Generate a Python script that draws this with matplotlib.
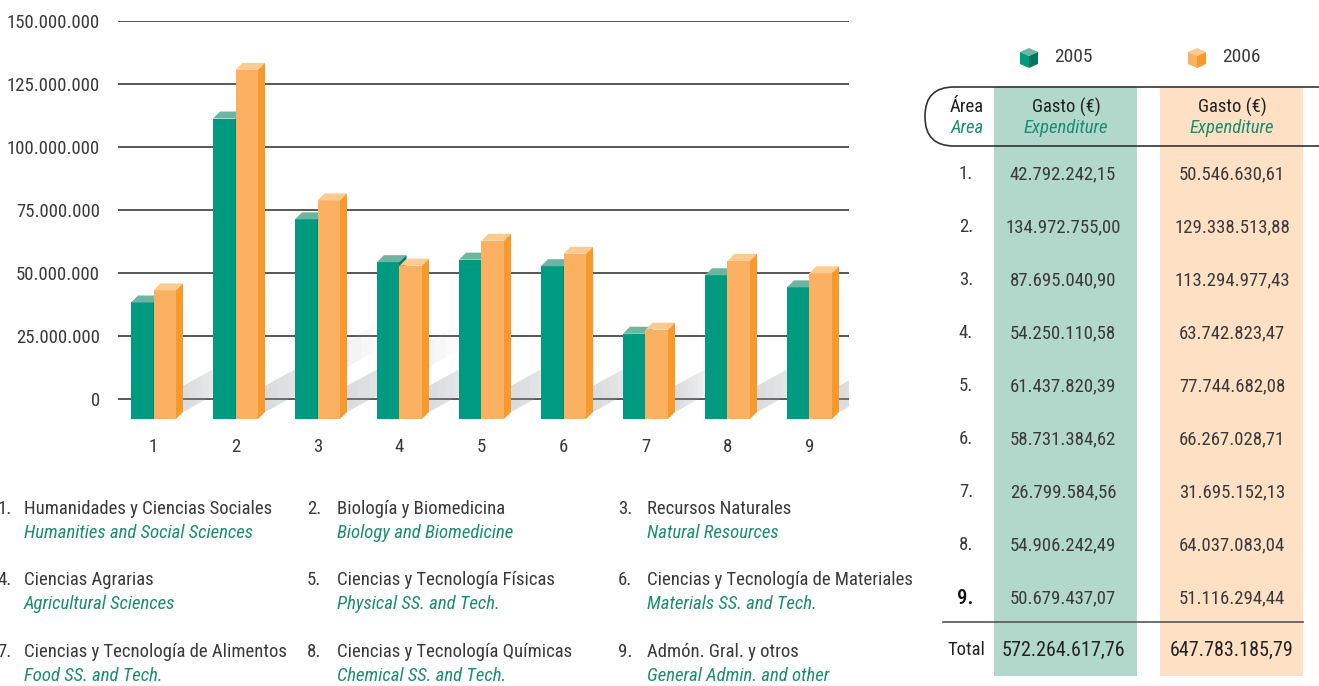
import numpy as np
import matplotlib.pyplot as plt
from matplotlib.patches import Polygon, FancyBboxPatch, Rectangle

plt.rcParams['font.family'] = ['Roboto Condensed', 'DejaVu Sans']

# ---- data ----
areas = ['1', '2', '3', '4', '5', '6', '7', '8', '9']
bars_2005 = [38.3e6, 111.3e6, 71.3e6, 54.3e6, 55.3e6, 52.7e6, 25.9e6, 49.1e6, 44.3e6]
bars_2006 = [43.1e6, 130.6e6, 78.8e6, 52.9e6, 62.8e6, 57.6e6, 27.5e6, 54.8e6, 49.9e6]
yticks = [0, 25e6, 50e6, 75e6, 100e6, 125e6, 150e6]

names_es = ['Humanidades y Ciencias Sociales', 'Biología y Biomedicina', 'Recursos Naturales',
            'Ciencias Agrarias', 'Ciencias y Tecnología Físicas', 'Ciencias y Tecnología de Materiales',
            'Ciencias y Tecnología de Alimentos', 'Ciencias y Tecnología Químicas', 'Admón. Gral. y otros']
names_en = ['Humanities and Social Sciences', 'Biology and Biomedicine', 'Natural Resources',
            'Agricultural Sciences', 'Physical SS. and Tech.', 'Materials SS. and Tech.',
            'Food SS. and Tech.', 'Chemical SS. and Tech.', 'General Admin. and other']

table_2005 = ['42.792.242,15', '134.972.755,00', '87.695.040,90', '54.250.110,58', '61.437.820,39',
              '58.731.384,62', '26.799.584,56', '54.906.242,49', '50.679.437,07']
table_2006 = ['50.546.630,61', '129.338.513,88', '113.294.977,43', '63.742.823,47', '77.744.682,08',
              '66.267.028,71', '31.695.152,13', '64.037.083,04', '51.116.294,44']
total_2005 = '572.264.617,76'
total_2006 = '647.783.185,79'

# colours
G_FRONT, G_TOP, G_SIDE = '#009A80', '#6CB5A2', '#00765C'
O_FRONT, O_TOP, O_SIDE = '#FBB161', '#FDCB8F', '#F7992B'
TXT = '#3a3a3a'
GREEN_TXT = '#1B8D6F'
FS = 13.5

W, H = 1319, 686
fig = plt.figure(figsize=(W / 100, H / 100), dpi=100)

# ---- bar chart ----
px_left, px_right, px_top, px_bot = 118, 849, 21, 419
ax = fig.add_axes([px_left / W, 1 - px_bot / H, (px_right - px_left) / W, (px_bot - px_top) / H])
ymax = 150e6
px_per_unit = (399 - 21) / ymax
base = -(px_bot - 399) / px_per_unit
ax.set_xlim((px_left - 153.5) / 82, (px_right - 153.5) / 82)
ax.set_ylim(base, ymax)

w = 22.5 / 82
dx = 7 / 82
dy = 7 / px_per_unit

for t in yticks:
    ax.axhline(t, color='#4a4a4a', lw=1.3, zorder=0)

idx = np.arange(len(areas))

# soft shadows cast up-right behind each group, fading with distance
for i in idx:
    top = max(bars_2005[i], bars_2006[i])
    x0 = i + w + dx
    y0 = base + dy
    L = min((top - base) * px_per_unit * 0.5, 120)  # pixels
    hs = 26 / px_per_unit
    for step in range(10):
        l = L * (1 - step / 10)
        pts = [(x0, y0), (x0, y0 + hs),
               (x0 + l / 82, y0 + hs + l * 0.55 / px_per_unit),
               (x0 + l / 82, y0 + l * 0.55 / px_per_unit)]
        ax.add_patch(Polygon(pts, closed=True, facecolor='#a4a6aa', edgecolor='none',
                             alpha=0.045, zorder=0.5))

def draw_bar(x0, v, front, topc, side, z):
    ax.bar(x0, v - base, width=w, bottom=base, align='edge', color=front, zorder=z)
    ax.add_patch(Polygon([(x0, v), (x0 + w, v), (x0 + w + dx, v + dy), (x0 + dx, v + dy)],
                         closed=True, facecolor=topc, edgecolor='none', zorder=z))
    ax.add_patch(Polygon([(x0 + w, base), (x0 + w, v), (x0 + w + dx, v + dy), (x0 + w + dx, base + dy)],
                         closed=True, facecolor=side, edgecolor='none', zorder=z))

for i in idx:
    draw_bar(i - w, bars_2005[i], G_FRONT, G_TOP, G_SIDE, 2)
    draw_bar(i, bars_2006[i], O_FRONT, O_TOP, O_SIDE, 3)

ax.set_yticks(yticks)
ax.set_yticklabels([f'{int(t):,}'.replace(',', '.') for t in yticks], fontsize=FS, color=TXT)
ax.set_xticks(idx)
ax.set_xticklabels(areas, fontsize=FS, color=TXT)
ax.tick_params(axis='y', length=0, pad=13)
ax.tick_params(axis='x', length=0, pad=14)
for s in ax.spines.values():
    s.set_visible(False)

# ---- overlay in pixel coordinates ----
ov = fig.add_axes([0, 0, 1, 1])
ov.set_xlim(0, W)
ov.set_ylim(H, 0)
ov.axis('off')
ov.patch.set_alpha(0)

# bottom legend of areas
col_num_x = [12, 321, 632]
col_txt_x = [24, 337, 647]
row_y = [509, 580, 652]
for k in range(9):
    r, c = divmod(k, 3)
    ov.text(col_num_x[c], row_y[r], f'{k + 1}.', ha='right', va='center', fontsize=FS, color=TXT)
    ov.text(col_txt_x[c], row_y[r], names_es[k], ha='left', va='center', fontsize=FS, color=TXT)
    ov.text(col_txt_x[c], row_y[r] + 24, names_en[k], ha='left', va='center', fontsize=FS,
            color=GREEN_TXT, style='italic')

# table columns
ov.add_patch(Rectangle((994, 87), 143, 589, facecolor='#B2D7CB', edgecolor='none', zorder=1))
ov.add_patch(Rectangle((1160, 87), 143, 589, facecolor='#FEE1C4', edgecolor='none', zorder=1))
ov.add_patch(FancyBboxPatch((925, 87), 430, 59, boxstyle='round,pad=0,rounding_size=29',
                            facecolor='none', edgecolor='#333333', lw=1.2, zorder=3, clip_on=False))

# legend cubes
def cube(cx, cy, topc, left, right):
    t, ur, ul, c = (cx, cy - 10), (cx + 9, cy - 6), (cx - 9, cy - 6), (cx, cy - 2)
    ll, lr, b = (cx - 9, cy + 6), (cx + 9, cy + 6), (cx, cy + 10)
    ov.add_patch(Polygon([t, ur, c, ul], closed=True, facecolor=topc, edgecolor='none', zorder=4))
    ov.add_patch(Polygon([ul, c, b, ll], closed=True, facecolor=left, edgecolor='none', zorder=4))
    ov.add_patch(Polygon([c, ur, lr, b], closed=True, facecolor=right, edgecolor='none', zorder=4))

cube(1029, 58, G_TOP, G_FRONT, G_SIDE)
cube(1197, 58, O_TOP, O_FRONT, O_SIDE)
ov.text(1054, 57, '2005', ha='left', va='center', fontsize=14, color=TXT)
ov.text(1222, 57, '2006', ha='left', va='center', fontsize=14, color=TXT)

# headers
ov.text(967, 107, 'Área', ha='center', va='center', fontsize=FS, color='#222222', zorder=5)
ov.text(967, 128, 'Area', ha='center', va='center', fontsize=FS, color=GREEN_TXT, style='italic', zorder=5)
for cx in (1066, 1232):
    ov.text(cx, 107, 'Gasto (€)', ha='center', va='center', fontsize=FS, color='#222222', zorder=5)
    ov.text(cx, 128, 'Expenditure', ha='center', va='center', fontsize=FS, color=GREEN_TXT,
            style='italic', zorder=5)

# rows
for k in range(9):
    y = 174 + 53 * k
    if k == 8:
        ov.text(973, y, f'{k + 1}.', ha='right', va='center', fontsize=15, color='#111111',
                weight='medium', zorder=5)
    else:
        ov.text(973, y, f'{k + 1}.', ha='right', va='center', fontsize=FS, color=TXT, zorder=5)
    ov.text(1063, y, table_2005[k], ha='center', va='center', fontsize=FS, color=TXT, zorder=5)
    ov.text(1232, y, table_2006[k], ha='center', va='center', fontsize=FS, color=TXT, zorder=5)

ov.plot([943, 1303], [622, 622], color='#555555', lw=1.2, zorder=5)
ov.text(985, 650, 'Total', ha='right', va='center', fontsize=FS, color='#222222', zorder=5)
ov.text(1063, 650, total_2005, ha='center', va='center', fontsize=14.5, color='#222222', zorder=5)
ov.text(1232, 650, total_2006, ha='center', va='center', fontsize=14.5, color='#222222', zorder=5)

fig.savefig('out.png', dpi=100)
